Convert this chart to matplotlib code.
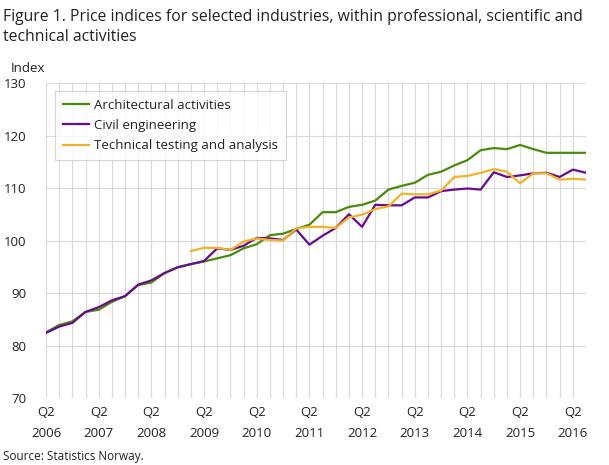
import matplotlib

matplotlib.use("Agg")
import matplotlib.pyplot as plt

plt.rcParams["font.family"] = ["Open Sans", "DejaVu Sans"]

# ---------------------------------------------------------------------------
# Data: quarterly price indices, 2006Q2 .. 2016Q3
# ---------------------------------------------------------------------------

first_year = 2006
first_quarter = 2
n_quarters = 42

architectural = [
    82.5, 83.9, 84.6, 86.4, 86.8, 88.3, 89.4, 91.5, 92.0, 93.8,
    94.9, 95.5, 96.0, 96.6, 97.2, 98.5, 99.3, 101.0, 101.3, 102.2,
    103.0, 105.4, 105.4, 106.4, 106.8, 107.6, 109.7, 110.4, 111.0, 112.5,
    113.1, 114.3, 115.3, 117.2, 117.6, 117.4, 118.2, 117.4, 116.7, 116.7,
    116.7, 116.7,
]

civil = [
    82.4, 83.6, 84.3, 86.4, 87.3, 88.6, 89.4, 91.6, 92.4, 93.8,
    94.9, 95.5, 96.1, 98.5, 98.2, 99.0, 100.5, 100.4, 100.1, 102.1,
    99.2, 100.9, 102.4, 105.0, 102.6, 106.8, 106.7, 106.7, 108.2, 108.2,
    109.4, 109.7, 109.9, 109.7, 113.0, 112.1, 112.4, 112.8, 112.9, 112.1,
    113.5, 112.9,
]

# starts in 2009Q1 (quarter index 11)
technical_start = 11
technical = [
    98.0, 98.6, 98.6, 98.2, 99.8, 100.4, 100.1, 100.0, 102.3,
    102.6, 102.6, 102.4, 104.4, 104.9, 106.0, 106.5, 108.9, 108.8, 108.8,
    109.5, 112.1, 112.3, 112.9, 113.6, 113.1, 110.9, 112.8, 112.8, 111.6,
    111.75, 111.6,
]

tick_years = list(range(2006, 2017))
y_ticks = [70, 80, 90, 100, 110, 120, 130]

COLORS = {
    "Architectural activities": "#4a8a0c",
    "Civil engineering": "#690c8c",
    "Technical testing and analysis": "#f2b228",
}

# ---------------------------------------------------------------------------
# Plot
# ---------------------------------------------------------------------------

x_all = list(range(n_quarters))
x_tech = list(range(technical_start, technical_start + len(technical)))

fig = plt.figure(figsize=(6.09, 4.65), dpi=100)
ax = fig.add_axes([46 / 609, 1 - 398 / 465, 540 / 609, 315 / 465])

ax.plot(x_all, architectural, color=COLORS["Architectural activities"],
        lw=1.6, label="Architectural activities")
ax.plot(x_all, civil, color=COLORS["Civil engineering"],
        lw=1.6, label="Civil engineering")
ax.plot(x_tech, technical, color=COLORS["Technical testing and analysis"],
        lw=1.6, label="Technical testing and analysis")

ax.set_xlim(0, n_quarters - 1)
ax.set_ylim(70, 130)
ax.set_yticks(y_ticks)
ax.set_yticklabels([str(v) for v in y_ticks], fontsize=9.5, color="#222222")

# quarterly grid, labels on Q2 of every year
ax.set_xticks(x_all, minor=True)
major_pos = [(yr - first_year) * 4 + (2 - first_quarter) for yr in tick_years]
ax.set_xticks(major_pos)
ax.set_xticklabels([f"Q2\n{yr}" for yr in tick_years], fontsize=9.5,
                   color="#222222", linespacing=1.75)

ax.grid(True, which="both", axis="x", color="#d9d9d9", lw=0.8)
ax.grid(True, which="major", axis="y", color="#d9d9d9", lw=0.8)
ax.set_axisbelow(True)
ax.tick_params(which="both", length=0)
ax.tick_params(axis="y", pad=14)
ax.tick_params(axis="x", pad=6)
for s in ax.spines.values():
    s.set_visible(False)

leg = ax.legend(
    loc="upper left",
    bbox_to_anchor=(0.0167, 0.975),
    borderaxespad=0,
    fontsize=9.5,
    frameon=True,
    fancybox=False,
    handlelength=2.0,
    handletextpad=0.35,
    labelspacing=0.55,
    borderpad=0.6,
)
leg.get_frame().set_edgecolor("#cccccc")
leg.get_frame().set_linewidth(0.8)
for t in leg.get_texts():
    t.set_color("#222222")

fig.text(3 / 609, 1 - 9 / 465,
         "Figure 1. Price indices for selected industries, within professional, scientific and\n"
         "technical activities",
         fontsize=11.3, va="top", ha="left", color="#222222", linespacing=1.35)
fig.text(11 / 609, 1 - 68 / 465, "Index", fontsize=9.5, va="center",
         ha="left", color="#222222")
fig.text(3 / 609, 1 - 456 / 465, "Source: Statistics Norway.", fontsize=8.5,
         va="center", ha="left", color="#222222")

fig.savefig("out.png", dpi=100)
